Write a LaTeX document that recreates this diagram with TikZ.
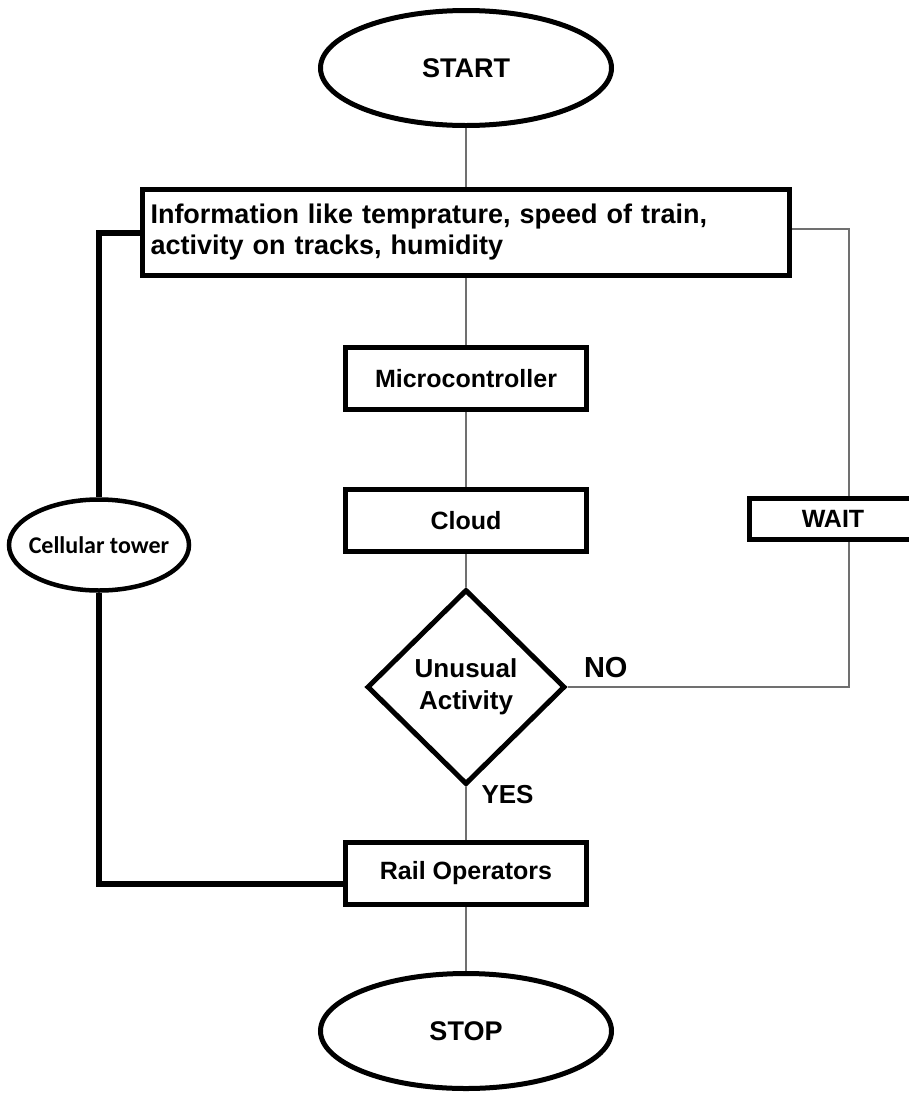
\documentclass[tikz,border=0pt]{standalone}
\usepackage{fontspec}
\setmainfont{Liberation Sans}
\newfontfamily\towerfont{Carlito}
\usetikzlibrary{positioning, shapes.geometric}
\definecolor{linegray}{HTML}{707070}

\begin{document}
\begin{tikzpicture}[
    x=1pt, y=-1pt,
    node distance=60pt,
    box/.style={draw, line width=5pt, minimum width=241pt, minimum height=62pt,
                font=\bfseries\fontsize{25}{30}\selectfont},
    terminal/.style={draw, ellipse, line width=5pt, minimum width=291pt,
                     minimum height=115pt, inner sep=0pt,
                     font=\bfseries\fontsize{27}{30}\selectfont},
    decision/.style={draw, diamond, line width=5pt, minimum width=198pt,
                     minimum height=195pt, inner sep=0pt, align=center,
                     font=\bfseries\fontsize{26}{32}\selectfont},
    flow/.style={draw=linegray, line width=2pt},
    link/.style={draw, line width=6pt},
    tag/.style={font=\bfseries\fontsize{26}{30}\selectfont}
]
\clip (0,0) rectangle (909,1101);

% Main column
\node[terminal] (start) at (466,68) {START};
\node[box, below=59pt of start, minimum width=647pt, minimum height=86pt,
      text width=631pt, inner xsep=8pt, align=left,
      font=\bfseries\fontsize{27}{31}\selectfont] (info)
    {Information like temprature, speed of train,\\activity on tracks, humidity};
\node[box, below=67pt of info] (micro) {Microcontroller};
\node[box, below=75pt of micro] (cloud) {Cloud};
\node[decision, below=33pt of cloud] (unusual) {Unusual\\Activity};
\node[box, below=53pt of unusual] (rail) {Rail Operators};
\node[terminal, below=64pt of rail] (stop) {STOP};

% Side nodes
\node[draw, ellipse, line width=4.5pt, minimum width=180pt, minimum height=91pt,
      inner xsep=-14pt, inner ysep=0pt,
      font=\towerfont\bfseries\fontsize{24}{28}\selectfont]
    (tower) at (99,545) {Cellular tower};
\node[box, minimum width=167pt, minimum height=41pt] (wait) at (833,519) {WAIT};

% Labels
\node[tag, font=\bfseries\fontsize{29}{32}\selectfont, anchor=south west]
    (no) at ([xshift=13pt, yshift=6pt]unusual.east) {NO};
\node[tag, anchor=west] (yes) at ([xshift=12pt, yshift=-8pt]unusual.south) {YES};

% Connectors
\draw[flow] (start) -- (info);
\draw[flow] (info) -- (micro);
\draw[flow] (micro) -- (cloud);
\draw[flow] (cloud) -- (unusual);
\draw[flow] (unusual) -- (rail);
\draw[flow] (rail) -- (stop);
\draw[flow] ([yshift=4pt]info.east) -| ([xshift=16pt]wait.north);
\draw[flow] ([xshift=16pt]wait.south) |- (unusual.east);
\draw[link] (info.west) -| (tower.north);
\draw[link] ([yshift=-10pt]rail.west) -| (tower.south);

\end{tikzpicture}
\end{document}
